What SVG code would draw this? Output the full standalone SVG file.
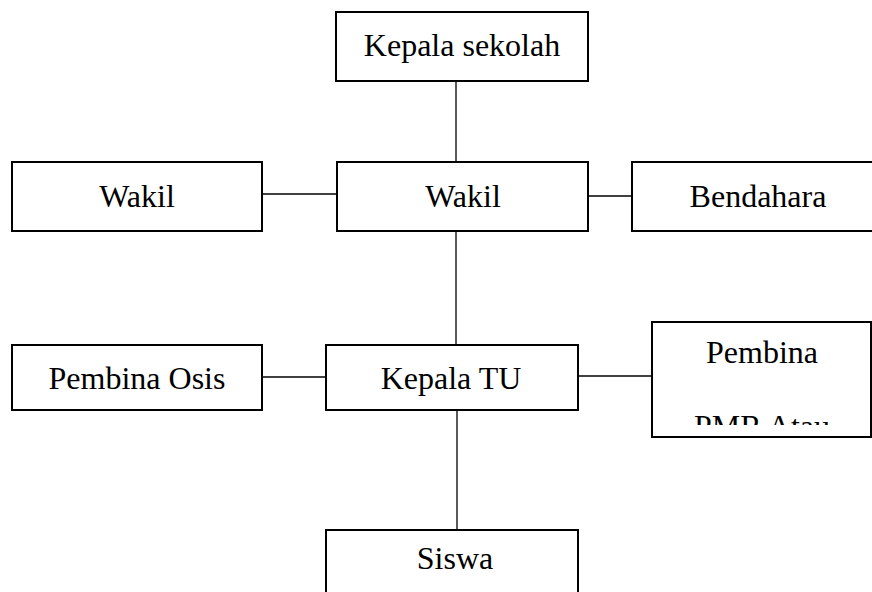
<svg xmlns="http://www.w3.org/2000/svg" width="872" height="592" viewBox="0 0 872 592">
<style>
.box{fill:#fff;stroke:#000;stroke-width:2}
.t{font-family:"Liberation Serif","Times New Roman",serif;font-size:32px;fill:#000;text-anchor:middle}
.c{stroke:#000;stroke-width:1.3;fill:none}
</style>
<defs><clipPath id="pmrclip"><rect x="653" y="323" width="218" height="102"/></clipPath></defs>
<rect width="872" height="592" fill="#fff"/>
<g id="connectors">
<line class="c" x1="456" y1="81" x2="456" y2="162"/>
<line class="c" x1="262" y1="194" x2="337" y2="194"/>
<line class="c" x1="588" y1="196" x2="632" y2="196"/>
<line class="c" x1="456" y1="231" x2="456" y2="345"/>
<line class="c" x1="262" y1="377" x2="326" y2="377"/>
<line class="c" x1="578" y1="376" x2="652" y2="376"/>
<line class="c" x1="457" y1="410" x2="457" y2="530"/>
</g>
<g id="kepala-sekolah"><rect class="box" x="336" y="12" width="252" height="69"/><text class="t" x="462" y="56">Kepala sekolah</text></g>
<g id="wakil-left"><rect class="box" x="12" y="162" width="250" height="69"/><text class="t" x="137" y="207">Wakil</text></g>
<g id="wakil-mid"><rect class="box" x="337" y="162" width="251" height="69"/><text class="t" x="463" y="207">Wakil</text></g>
<g id="bendahara"><rect class="box" x="632" y="162" width="245" height="69"/><text class="t" x="758" y="207">Bendahara</text></g>
<g id="pembina-osis"><rect class="box" x="12" y="345" width="250" height="65"/><text class="t" x="137" y="389">Pembina Osis</text></g>
<g id="kepala-tu"><rect class="box" x="326" y="345" width="252" height="65"/><text class="t" x="451" y="389">Kepala TU</text></g>
<g id="pembina-pmr"><rect class="box" x="652" y="322" width="219" height="115"/><text class="t" x="762" y="363">Pembina</text><text class="t" x="762" y="437" clip-path="url(#pmrclip)">PMR Atau</text></g>
<g id="siswa"><rect class="box" x="326" y="530" width="252" height="70"/><text class="t" x="455" y="569">Siswa</text></g>
</svg>
